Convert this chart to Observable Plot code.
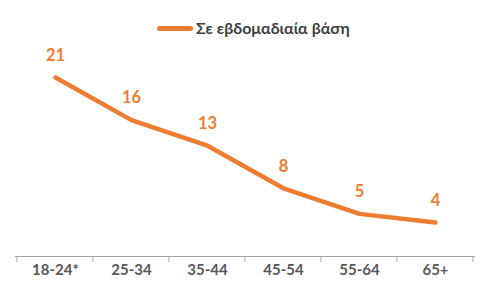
<!DOCTYPE html>
<html>
<head>
<meta charset="utf-8">
<script src="https://cdn.jsdelivr.net/npm/d3@7"></script>
<script src="https://cdn.jsdelivr.net/npm/@observablehq/plot@0.6"></script>
<style>
  html, body { margin: 0; padding: 0; background: #fff; }
  #legend { height: 40px; width: 503px; position: relative; font-family: Lato, sans-serif; }
  #legend .sw { position: absolute; left: 157px; top: 26px; width: 36px; height: 5px; background: #ED7D31; border-radius: 2.5px; }
  #legend .lb { position: absolute; left: 196px; top: 18px; font-size: 16px; font-weight: bold; color: #404040; line-height: 20px; }
</style>
</head>
<body>
<div id="legend"><div class="sw"></div><div class="lb"></div></div>
<div id="chart"></div>
<script>
const categories = ["18-24*", "25-34", "35-44", "45-54", "55-64", "65+"];
const values = [21, 16, 13, 8, 5, 4];
const seriesName = "Σε εβδομαδιαία βάση";

document.querySelector("#legend .lb").textContent = seriesName;

const data = categories.map((c, i) => ({cat: c, v: values[i]}));

const separators = (index, scales, values_, dims) => {
  const g = d3.create("svg:g");
  const x = scales.x, bw = x.bandwidth();
  const y0 = scales.y(0);
  const bounds = categories.map(c => x(c)).concat([x(categories[categories.length - 1]) + bw]);
  for (const bx of bounds) {
    g.append("line")
      .attr("x1", bx).attr("x2", bx)
      .attr("y1", y0).attr("y2", y0 + 6)
      .attr("stroke", "#a6a6a6").attr("stroke-width", 1);
  }
  return g.node();
};

const chart = Plot.plot({
  width: 503,
  height: 251,
  marginTop: 37,
  marginBottom: 35,
  marginLeft: 15,
  marginRight: 28,
  style: {fontFamily: "Lato, sans-serif", background: "#fff"},
  x: {domain: categories, type: "band", padding: 0, label: null},
  y: {domain: [0, 21], axis: null},
  marks: [
    Plot.ruleY([0], {stroke: "#a6a6a6", strokeWidth: 1}),
    separators,
    Plot.line(data, {x: "cat", y: "v", stroke: "#ED7D31", strokeWidth: 4.5, strokeLinecap: "round", strokeLinejoin: "round"}),
    Plot.text(data, {x: "cat", y: "v", text: d => String(d.v), dy: -22, fill: "#ED7D31", fontSize: 16.5, fontWeight: "bold"}),
    Plot.axisX({tickSize: 0, tickPadding: 8, fontSize: 15, fontWeight: "bold", fill: "#595959"})
  ]
});
document.getElementById("chart").append(chart);
</script>
</body>
</html>
